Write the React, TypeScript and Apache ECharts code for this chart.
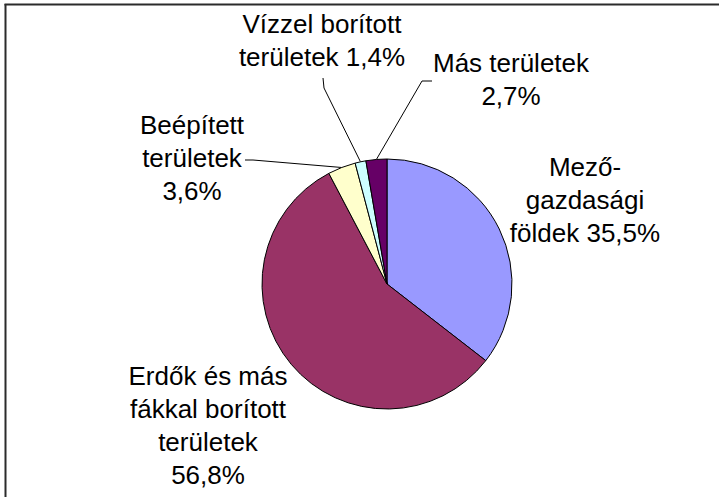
import React, { useEffect, useRef } from "react";
import * as echarts from "echarts";

const categories = [
  "Mezőgazdasági földek",
  "Erdők és más fákkal borított területek",
  "Beépített területek",
  "Vízzel borított területek",
  "Más területek",
];
const values = [35.5, 56.8, 3.6, 1.4, 2.7];
const labelNames = [
  "Mező-\ngazdasági\nföldek",
  "Erdők és más\nfákkal borított\nterületek",
  "Beépített\nterületek",
  "Vízzel borított\nterületek",
  "Más területek",
];
const valueSeparators = [" ", "\n", "\n", " ", "\n"];
const colors = ["#9999FF", "#993366", "#FFFFCC", "#CCFFFF", "#660066"];

const CX = 387;
const CY = 284;
const R = 125;
const labelCenters = [
  [585, 200],
  [208, 425],
  [192, 158],
  [322, 40],
  [511, 79],
];
// leader line: [bend point, label end] (null = no leader)
const leaderPaths: (number[][] | null)[] = [
  null,
  null,
  [[253, 160], [245, 160]],
  [[324, 88], [323, 78]],
  [[422, 81], [432, 81]],
];

function sliceEdgePoint(i: number) {
  const total = values.reduce((a, b) => a + b, 0);
  let cum = 0;
  for (let k = 0; k < i; k++) cum += values[k];
  const f = (cum + values[i] / 2) / total;
  const t = f * Math.PI * 2;
  return [CX + R * Math.sin(t), CY - R * Math.cos(t)];
}

export default function App() {
  const ref = useRef<HTMLDivElement>(null);
  useEffect(() => {
    if (!ref.current) return;
    const chart = echarts.init(ref.current, undefined, { renderer: "svg" });
    chart.setOption({
      animation: false,
      backgroundColor: "#ffffff",
      graphic: [
        {
          type: "line",
          shape: { x1: 4.5, y1: 4.5, x2: 719, y2: 4.5 },
          style: { stroke: "#2b2b2b", lineWidth: 2 },
          silent: true,
        },
        {
          type: "line",
          shape: { x1: 5.5, y1: 4, x2: 5.5, y2: 497 },
          style: { stroke: "#2b2b2b", lineWidth: 2 },
          silent: true,
        },
      ],
      series: [
        {
          type: "pie",
          center: [CX, CY],
          radius: R,
          startAngle: 90,
          clockwise: true,
          silent: true,
          emphasis: { disabled: true },
          itemStyle: { borderColor: "#000000", borderWidth: 1 },
          label: {
            show: true,
            position: "outside",
            fontFamily: "Arial, 'Liberation Sans', sans-serif",
            fontSize: 26,
            lineHeight: 33,
            color: "#000000",
            align: "center",
            formatter: (p: any) =>
              labelNames[p.dataIndex] +
              valueSeparators[p.dataIndex] +
              values[p.dataIndex].toFixed(1).replace(".", ",") +
              "%",
          },
          labelLine: {
            show: true,
            lineStyle: { color: "#000000", width: 1 },
          },
          labelLayout: (params: any) => {
            const i = params.dataIndex;
            const res: any = {
              x: labelCenters[i][0],
              y: labelCenters[i][1],
              align: "center",
              verticalAlign: "middle",
            };
            const lp = leaderPaths[i];
            if (lp) {
              res.labelLinePoints = [sliceEdgePoint(i), lp[0], lp[1]];
            }
            return res;
          },
          data: categories.map((name, i) => ({
            name,
            value: values[i],
            itemStyle: { color: colors[i] },
            labelLine: { show: leaderPaths[i] !== null },
          })),
        },
      ],
    });
    return () => chart.dispose();
  }, []);
  return (
    <div
      ref={ref}
      style={{ position: "fixed", left: 0, top: 0, width: 719, height: 497 }}
    />
  );
}
